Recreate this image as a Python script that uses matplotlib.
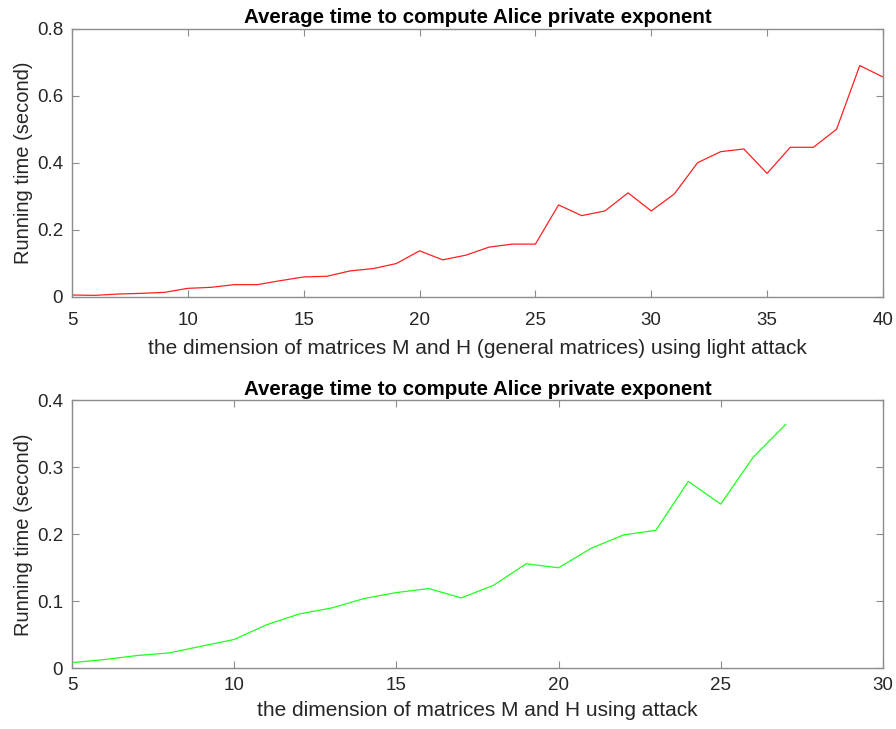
import matplotlib.pyplot as plt
from matplotlib.ticker import FuncFormatter

plt.rcParams['font.family'] = ['Liberation Sans', 'DejaVu Sans']

# light attack, general matrices
dim_light = list(range(5, 41))
time_light = [0.005, 0.004, 0.008, 0.010, 0.013, 0.025, 0.028, 0.036, 0.036, 0.048,
              0.059, 0.061, 0.077, 0.084, 0.099, 0.137, 0.110, 0.124, 0.148, 0.157,
              0.157, 0.274, 0.242, 0.256, 0.310, 0.256, 0.307, 0.400, 0.433, 0.441,
              0.368, 0.446, 0.446, 0.500, 0.690, 0.656]

# full attack
dim_full = list(range(5, 28))
time_full = [0.0084, 0.013, 0.019, 0.023, 0.033, 0.043, 0.065, 0.081, 0.090, 0.104,
             0.113, 0.119, 0.105, 0.124, 0.156, 0.150, 0.179, 0.199, 0.206, 0.279,
             0.245, 0.315, 0.364]

title = 'Average time to compute Alice private exponent'
ylab = 'Running time (second)'
txt = '#262626'
edge = '#8c8c8c'

fig = plt.figure(figsize=(8.96, 7.29), dpi=100)
ax1 = fig.add_axes([0.0804, 0.593, 0.905, 0.3676])
ax2 = fig.add_axes([0.0804, 0.0833, 0.905, 0.3676])

fmt = FuncFormatter(lambda v, p: ('%g' % round(v, 3)))


def style(ax, xpad):
    for s in ax.spines.values():
        s.set_color(edge)
        s.set_linewidth(1.0)
    ax.tick_params(direction='in', length=5, width=0.8, color=edge,
                   labelsize=13.5, labelcolor=txt, top=True, right=True)
    ax.tick_params(axis='y', pad=6.5)
    ax.tick_params(axis='x', pad=xpad)
    ax.yaxis.set_major_formatter(fmt)


ax1.plot(dim_light, time_light, color='#ff2020', lw=0.9)
ax1.set_xlim(5, 40)
ax1.set_ylim(0, 0.8)
ax1.set_xticks(range(5, 41, 5))
ax1.set_yticks([0, 0.2, 0.4, 0.6, 0.8])
ax1.set_title(title, fontsize=14.8, fontweight='bold', pad=4)
ax1.set_xlabel('the dimension of matrices M and H (general matrices) using light attack',
               fontsize=15, color=txt, labelpad=7)
ax1.set_ylabel(ylab, fontsize=14.5, color=txt, labelpad=3)
style(ax1, 11)

ax2.plot(dim_full, time_full, color='#20ff20', lw=0.9)
ax2.set_xlim(5, 30)
ax2.set_ylim(0, 0.4)
ax2.set_xticks(range(5, 31, 5))
ax2.set_yticks([0, 0.1, 0.2, 0.3, 0.4])
ax2.set_title(title, fontsize=14.8, fontweight='bold', pad=4)
ax2.set_xlabel('the dimension of matrices M and H using attack',
               fontsize=15, color=txt, labelpad=5)
ax2.set_ylabel(ylab, fontsize=14.5, color=txt, labelpad=3)
style(ax2, 6.5)

fig.savefig('out.png', dpi=100)
